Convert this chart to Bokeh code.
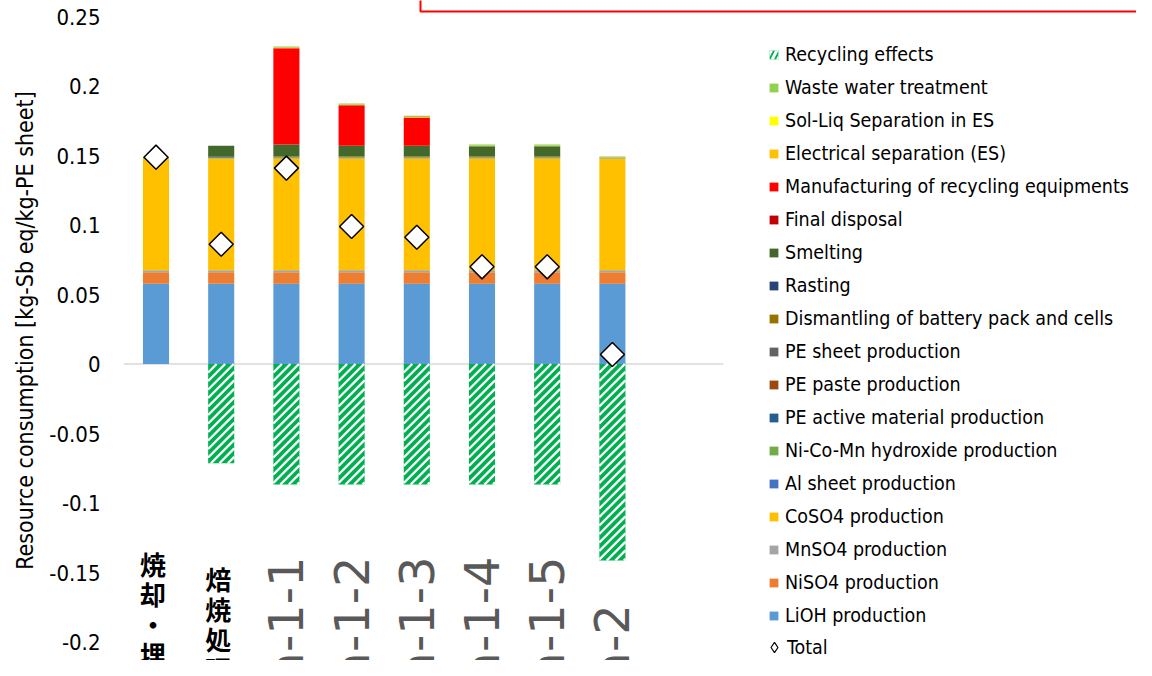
import math
from bokeh.plotting import figure
from bokeh.models import (Range1d, Legend, LegendItem, ColumnDataSource,
                          FixedTicker, NumeralTickFormatter, BoxAnnotation)
from bokeh.core.properties import value
from bokeh.embed import file_html
from bokeh.resources import INLINE

# ---------------- data ----------------
categories = ["焼却・埋立", "焙焼処理", "a-1-1", "a-1-2", "a-1-3", "a-1-4", "a-1-5", "a-2"]

lioh          = [0.0577, 0.0577, 0.0577, 0.0577, 0.0577, 0.0577, 0.0577, 0.0577]
niso4         = [0.0083, 0.0083, 0.0083, 0.0083, 0.0083, 0.0083, 0.0083, 0.0083]
mnso4         = [0.0015, 0.0015, 0.0015, 0.0015, 0.0015, 0.0015, 0.0015, 0.0015]
coso4         = [0.0804, 0.0804, 0.0804, 0.0804, 0.0804, 0.0804, 0.0804, 0.0804]
al_sheet      = [0.0002, 0.0002, 0.0002, 0.0002, 0.0002, 0.0002, 0.0002, 0.0002]
ncm_hydroxide = [0.0002, 0.0002, 0.0002, 0.0002, 0.0002, 0.0002, 0.0002, 0.0002]
pe_active     = [0.0001, 0.0001, 0.0001, 0.0001, 0.0001, 0.0001, 0.0001, 0.0001]
pe_paste      = [0.0001, 0.0001, 0.0001, 0.0001, 0.0001, 0.0001, 0.0001, 0.0001]
pe_sheet      = [0.0001, 0.0001, 0.0001, 0.0001, 0.0001, 0.0001, 0.0001, 0.0001]
dismantling   = [0.0, 0.0, 0.0006, 0.0006, 0.0006, 0.0006, 0.0006, 0.0]
rasting       = [0.0, 0.0005, 0.0, 0.0, 0.0, 0.0, 0.0, 0.0]
smelting      = [0.0, 0.0079, 0.0087, 0.0078, 0.0078, 0.0075, 0.0075, 0.0]
final_disp    = [0.0003, 0.0, 0.0, 0.0, 0.0, 0.0, 0.0, 0.0]
manufacturing = [0.0, 0.0, 0.0693, 0.0292, 0.0203, 0.0, 0.0, 0.0]
elec_sep      = [0.0, 0.0, 0.0002, 0.0002, 0.0002, 0.0002, 0.0002, 0.0001]
sol_liq       = [0.0, 0.0, 0.0002, 0.0002, 0.0002, 0.0002, 0.0002, 0.0001]
waste_water   = [0.0, 0.0, 0.0008, 0.0008, 0.0009, 0.0008, 0.0008, 0.0005]
recycling     = [0.0, -0.0714, -0.0867, -0.0867, -0.0867, -0.0867, -0.0867, -0.1414]
total         = [0.1488, 0.0862, 0.1409, 0.0989, 0.0912, 0.0699, 0.0699, 0.0068]

y_ticks = [0.25, 0.2, 0.15, 0.1, 0.05, 0.0, -0.05, -0.1, -0.15, -0.2]

stack_names = ["LiOH production", "NiSO4 production", "MnSO4 production", "CoSO4 production",
               "Al sheet production", "Ni-Co-Mn hydroxide production",
               "PE active material production", "PE paste production", "PE sheet production",
               "Dismantling of battery pack and cells", "Rasting", "Smelting", "Final disposal",
               "Manufacturing of recycling equipments", "Electrical separation (ES)",
               "Sol-Liq Separation in ES", "Waste water treatment"]
stack_values = [lioh, niso4, mnso4, coso4, al_sheet, ncm_hydroxide, pe_active, pe_paste,
                pe_sheet, dismantling, rasting, smelting, final_disp, manufacturing,
                elec_sep, sol_liq, waste_water]
stack_colors = ["#5B9BD5", "#ED7D31", "#A5A5A5", "#FFC000", "#4472C4", "#70AD47",
                "#255E91", "#9E480E", "#636363", "#997300", "#264478", "#43682B",
                "#C00000", "#FF0000", "#FFC000", "#FFFF00", "#92D050"]

# ---------------- figure ----------------
FONT = "DejaVu Sans Condensed"
x = list(range(len(categories)))
cat_px = 65.2           # pixels per category slot
px_per_unit = 1390.0    # pixels per y unit
zero_px = 363.5         # y pixel of the zero line
frame_left = 123
W, H = 1136, 660
x_start = -(155.5 - frame_left) / cat_px
x_end = x_start + (W - frame_left) / cat_px
y_top = zero_px / px_per_unit
y_bot = (zero_px - H) / px_per_unit

p = figure(width=W, height=H, output_backend="svg", toolbar_location=None,
           x_range=Range1d(x_start, x_end), y_range=Range1d(y_bot, y_top),
           x_axis_type=None, min_border_left=frame_left, min_border_right=0,
           min_border_top=0, min_border_bottom=0)
p.outline_line_color = None
p.ygrid.visible = False
p.background_fill_color = "white"
p.border_fill_color = "white"

# y axis
ya = p.yaxis[0]
ya.ticker = FixedTicker(ticks=y_ticks)
ya.formatter = NumeralTickFormatter(format="0.[00]")
ya.axis_line_color = None
ya.major_tick_line_color = None
ya.minor_tick_line_color = None
ya.major_tick_out = 0
ya.major_label_standoff = 23
ya.major_label_text_font = FONT
ya.major_label_text_font_size = "22px"
ya.major_label_text_color = "#000000"
ya.axis_label = "Resource consumption [kg-Sb eq/kg-PE sheet]"
ya.axis_label_text_font = FONT
ya.axis_label_text_font_size = "23px"
ya.axis_label_text_font_style = "normal"
ya.axis_label_text_color = "#000000"
ya.axis_label_standoff = 8

# zero line (category axis)
p.line(x=[x_start, len(categories) + 0.7], y=[0, 0], line_color="#D9D9D9", line_width=1.5)

# stacked bars
data = {"x": x}
for n, v in zip(stack_names, stack_values):
    data[n] = v
data["recycling"] = recycling
data["total"] = total
src = ColumnDataSource(data)

bar_w = 0.4
renderers = p.vbar_stack(stack_names, x="x", width=bar_w, color=stack_colors,
                         line_color=None, source=src)
rmap = dict(zip(stack_names, renderers))

# recycling effects: green bars with white diagonal stripes
rec_fill = p.vbar(x="x", top="recycling", bottom=0, width=bar_w, source=src,
                  fill_color="#00B050", line_color=None)
period = 8.5
bw_px = bar_w * cat_px
sx0, sy0, sx1, sy1 = [], [], [], []
for xi, r in zip(x, recycling):
    h_px = -r * px_per_unit
    if h_px <= 0:
        continue
    c = 0.0
    while c < bw_px + h_px:
        u0, u1 = max(0.0, c - h_px), min(bw_px, c)
        if u1 > u0:
            sx0.append(xi - bar_w / 2 + u0 / cat_px); sy0.append(-(c - u0) / px_per_unit)
            sx1.append(xi - bar_w / 2 + u1 / cat_px); sy1.append(-(c - u1) / px_per_unit)
        c += period
p.segment(x0=sx0, y0=sy0, x1=sx1, y1=sy1, line_color="white", line_width=2.3)

# zero-height hatched bars: used only for the legend swatch
leg_hatch = p.vbar(x="x", top=0, bottom=0, width=bar_w, source=src,
                   fill_color="#00B050", line_color=None, hatch_pattern="/",
                   hatch_color="white", hatch_weight=3, hatch_scale=11)

tot = p.scatter(x="x", y="total", source=src, marker="square", angle=math.pi / 4,
                size=17, fill_color="white", line_color="black", line_width=1.5)
# zero-size diamonds: legend swatch for "Total"
leg_tot = p.scatter(x="x", y="total", source=src, marker="diamond", size=0,
                    fill_color="white", line_color="black", line_width=1.2)

# category labels: Japanese ones stacked vertically character by character
jx, jy, jt, joff = [], [], [], []
jp_center = (zero_px - 623) / px_per_unit
for i, lab in enumerate(categories[:2]):
    n = len(lab)
    for k, ch in enumerate(lab):
        jx.append(x[i]); jy.append(jp_center); jt.append(ch)
        joff.append((k - (n - 1) / 2) * 30)
jp_src = ColumnDataSource(dict(x=jx, y=jy, t=jt, off=joff))
p.text(x="x", y="y", text="t", source=jp_src, text_font=value("Noto Sans CJK JP"),
       text_font_size="26px", text_font_style="bold", text_align="center",
       text_baseline="middle", text_color="#000000", x_offset=-3, y_offset="off")

lat_y = (zero_px - 681) / px_per_unit
lat_src = ColumnDataSource(dict(x=x[2:], y=[lat_y] * (len(categories) - 2), t=categories[2:]))
p.text(x="x", y="y", text="t", source=lat_src, text_font=value("DejaVu Sans"),
       text_font_size="48px", text_align="left", text_baseline="middle",
       angle=math.pi / 2, text_color="#595959")

# red frame (partly outside the picture)
p.add_layout(BoxAnnotation(left=(420 - 155.5) / cat_px, right=(1143 - 155.5) / cat_px,
                           bottom=(zero_px - 11) / px_per_unit, top=0.40, fill_alpha=0,
                           line_color="#FF0000", line_alpha=1.0, line_width=2))

# legend
order = ["Waste water treatment", "Sol-Liq Separation in ES", "Electrical separation (ES)",
         "Manufacturing of recycling equipments", "Final disposal", "Smelting", "Rasting",
         "Dismantling of battery pack and cells", "PE sheet production", "PE paste production",
         "PE active material production", "Ni-Co-Mn hydroxide production", "Al sheet production",
         "CoSO4 production", "MnSO4 production", "NiSO4 production", "LiOH production"]
items = [LegendItem(label="Recycling effects", renderers=[leg_hatch])]
items += [LegendItem(label=n, renderers=[rmap[n]]) for n in order]
common = dict(orientation="vertical", padding=0, margin=0, border_line_color=None,
              background_fill_alpha=0, label_text_font=FONT, label_text_font_size="19.5px",
              label_height=24, label_text_color="#000000", spacing=9)
legend = Legend(items=items, location=(645, 33), glyph_width=11, glyph_height=11,
                label_standoff=6, **common)
p.add_layout(legend)
legend2 = Legend(items=[LegendItem(label="Total", renderers=[leg_tot])], location=(638, 0),
                 glyph_width=26, glyph_height=26, label_standoff=-2, **common)
p.add_layout(legend2)

open("out.html", "w").write(file_html(p, INLINE))
